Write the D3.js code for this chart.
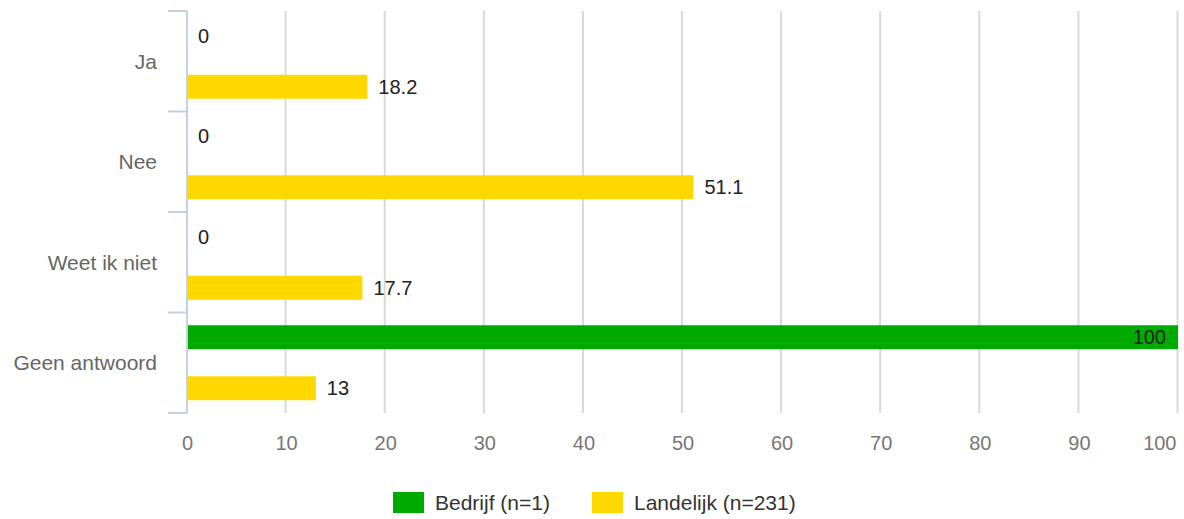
<!DOCTYPE html>
<html>
<head>
<meta charset="utf-8">
<script src="https://cdn.jsdelivr.net/npm/d3@7"></script>
<style>
  body { margin: 0; background: #fff; }
  svg text { font-family: Arial, "Liberation Sans", sans-serif; }
</style>
</head>
<body>
<div id="chart"></div>
<script>
// data
var categories = ["Ja", "Nee", "Weet ik niet", "Geen antwoord"]
var seriesNames = ["Bedrijf (n=1)", "Landelijk (n=231)"]
var bedrijf = [0, 0, 0, 100]
var landelijk = [18.2, 51.1, 17.7, 13]
var xTicks = [0, 10, 20, 30, 40, 50, 60, 70, 80, 90, 100]

var width = 1184, height = 519;
var plotLeft = 187, plotRight = 1178, plotTop = 11, plotBottom = 413;
var fontSize = 20;

var color = d3.scaleOrdinal()
  .domain(seriesNames)
  .range(["#00aa00", "#ffd800"]);

var svg = d3.select("#chart").append("svg")
  .attr("width", width)
  .attr("height", height);

var x = d3.scaleLinear().domain([0, 100]).range([plotLeft, plotRight]);
var y = d3.scaleBand().domain(categories).range([plotTop, plotBottom]);
var ySub = d3.scaleBand().domain(seriesNames)
  .range([0, y.bandwidth()])
  .paddingInner(0.53)
  .paddingOuter(0.25);

// grid lines
svg.append("g")
  .selectAll("line")
  .data(xTicks.slice(1))
  .enter().append("line")
  .attr("x1", d => x(d) - 0.5)
  .attr("x2", d => x(d) - 0.5)
  .attr("y1", plotTop)
  .attr("y2", plotBottom)
  .attr("stroke", "#d9d9d9")
  .attr("stroke-width", 2);

// x axis labels
var xAxis = svg.append("g")
  .attr("transform", "translate(0," + (plotBottom + 30) + ")")
  .call(d3.axisBottom(x).tickValues(xTicks).tickSize(0).tickPadding(0));
xAxis.select(".domain").remove();
xAxis.selectAll("text")
  .attr("dy", "0.35em")
  .style("font-size", fontSize + "px")
  .style("font-family", "Arial, 'Liberation Sans', sans-serif")
  .attr("fill", "#777");
// last label is pulled in so it fits
xAxis.selectAll(".tick").filter(d => d == 100).select("text")
  .attr("text-anchor", "end")
  .attr("dx", -2);

// bars
var rows = categories.map((c, i) => ({cat: c, values: [bedrijf[i], landelijk[i]]}));

var groups = svg.append("g").selectAll("g")
  .data(rows)
  .enter().append("g")
  .attr("transform", d => "translate(0," + y(d.cat) + ")");

var bars = groups.selectAll("g")
  .data(d => d.values.map((v, j) => ({key: seriesNames[j], value: v})))
  .enter().append("g");

bars.append("rect")
  .attr("x", x(0))
  .attr("y", d => ySub(d.key))
  .attr("width", d => x(d.value) - x(0))
  .attr("height", ySub.bandwidth())
  .attr("fill", d => color(d.key));

bars.append("text")
  .attr("x", d => d.value >= 95 ? x(d.value) - 12 : x(d.value) + 11)
  .attr("y", d => ySub(d.key) + ySub.bandwidth() / 2)
  .attr("dy", "0.36em")
  .attr("text-anchor", d => d.value >= 95 ? "end" : "start")
  .style("font-size", fontSize + "px")
  .attr("fill", "#222")
  .text(d => d.value);

// category axis
var yAxis = svg.append("g")
  .attr("transform", "translate(" + plotLeft + ",0)");

yAxis.append("line")
  .attr("x1", 0).attr("x2", 0)
  .attr("y1", plotTop).attr("y2", plotBottom)
  .attr("stroke", "#c3d1e3")
  .attr("stroke-width", 2);

yAxis.selectAll("line.tick")
  .data(categories.map(c => y(c)).concat([plotBottom]))
  .enter().append("line")
  .attr("class", "tick")
  .attr("x1", -19).attr("x2", 0)
  .attr("y1", d => d).attr("y2", d => d)
  .attr("stroke", "#c3d1e3")
  .attr("stroke-width", 2);

yAxis.selectAll("text.label")
  .data(categories)
  .enter().append("text")
  .attr("class", "label")
  .attr("x", -30)
  .attr("y", d => y(d) + y.bandwidth() / 2)
  .attr("dy", "0.35em")
  .attr("text-anchor", "end")
  .style("font-size", (fontSize + 1) + "px")
  .attr("fill", "#666")
  .text(d => d);

// legend
var legend = svg.append("g")
  .attr("transform", "translate(393,492)");

var lg = legend.selectAll("g")
  .data(seriesNames)
  .enter().append("g")
  .attr("transform", (d, j) => "translate(" + (j * 199) + ",0)");

lg.append("rect")
  .attr("width", 31)
  .attr("height", 21)
  .attr("fill", d => color(d));

lg.append("text")
  .attr("x", 42)
  .attr("y", 11)
  .attr("dy", "0.35em")
  .style("font-size", (fontSize + 1) + "px")
  .attr("fill", "#333")
  .text(d => d);
</script>
</body>
</html>
